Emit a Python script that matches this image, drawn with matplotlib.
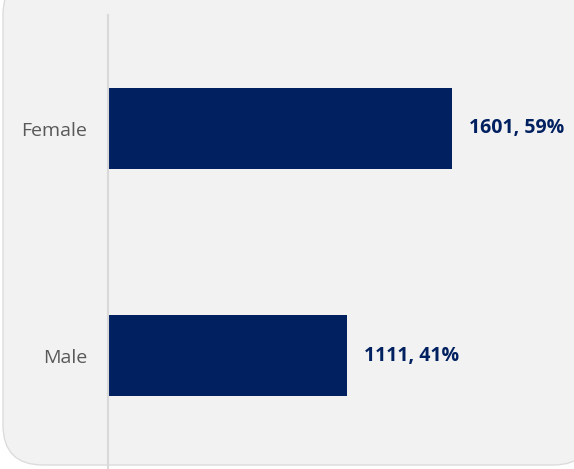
import matplotlib.pyplot as plt
from matplotlib.patches import FancyBboxPatch

categories = ["Male", "Female"]
counts = [1111, 1601]
shares = ["41%", "59%"]

navy = "#002060"

fig = plt.figure(figsize=(5.74, 4.69), dpi=100)
fig.patch.set_facecolor("white")

# rounded card background (in inches), kept behind the axes
card = FancyBboxPatch((0.03, 0.04), 5.9, 4.9, boxstyle="round,pad=0,rounding_size=0.4",
                      transform=fig.dpi_scale_trans, facecolor="#f2f2f2",
                      edgecolor="#dcdcdc", linewidth=1.0, zorder=-10)
fig.add_artist(card)

ax = fig.add_axes([108 / 574, 0, 1 - 108 / 574, 454 / 469])
ax.set_zorder(1)
ax.set_facecolor("none")

y = range(len(categories))
ax.barh(y, counts, height=0.357, color=navy)
for i, (c, s) in enumerate(zip(counts, shares)):
    ax.text(c + 80, i, f"{c}, {s}", va="center", ha="left", fontsize=14,
            fontweight="bold", color=navy, family="Open Sans")

ax.set_xlim(0, 2170)
ax.set_ylim(-0.5, 1.5)
ax.set_yticks(list(y))
ax.set_yticklabels(categories, fontsize=14, color="#595959", family="Open Sans")
ax.tick_params(axis="y", length=0, pad=15)
ax.set_xticks([])
for side in ["top", "right", "bottom"]:
    ax.spines[side].set_visible(False)
ax.spines["left"].set_color("#d9d9d9")
ax.spines["left"].set_linewidth(1.5)

fig.savefig("out.png", dpi=100)
